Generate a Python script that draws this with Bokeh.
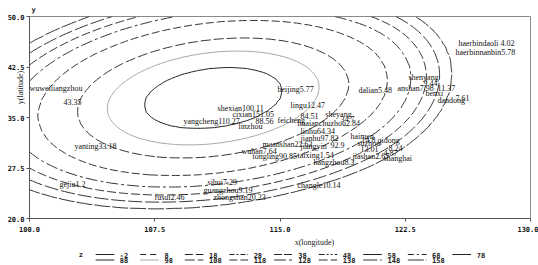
import numpy as np
from contourpy import contour_generator
from bokeh.plotting import figure
from bokeh.models import FixedTicker, PrintfTickFormatter, Range1d
from bokeh.layouts import column
from bokeh.embed import file_html
from bokeh.resources import INLINE
from bokeh.core.properties import value

# ---- contour levels (legend) ----
levels = [-2, 8, 18, 28, 38, 48, 58, 68, 78, 88, 98, 108, 118, 128, 138, 148, 158]
level_dash = ["solid", "6 4", "8 3", "5 2 2 2", "8 2", "6 2 2 2 2 2", "solid", "6 3 2 3", "solid",
              "solid", "solid", "10 3", "8 3", "12 3 3 3", "9 3", "14 3", "16 2"]
level_color = ["#222222"] * 10 + ["#a8a8a8"] + ["#333333"] * 6

# ---- surface: radius (lon units) at which each visible level is crossed ----
ring_levels = [88, 98, 108, 118, 128, 138, 148, 158]
ring_radius = [4.15, 6.35, 8.1, 10.5, 12.06, 13.12, 14.08, 14.96]
centre_lon, centre_lat, tilt, lat_scale, east_squeeze = 111.0, 37.9, 0.25, 1.07, 0.025

# ---- station labels ----
label_text = ["wuweiliangzhou", "43.35", "beijing5.77", "lingu12.47", "shexian100.11", "cixian151.05",
              "yangcheng110.27", "88.56", "linzhou", "feicheng", "84.51", "sheyang", "34.7",
              "huaianchuzhou2.84", "linhu64.34", "jianhu97.82", "haimen", "14.8 qidong",
              "maanshan22.63", "jiangyin", "92.9", "suzhou", "13.01", "8.24", "4.87", "taixing1.54",
              "jiashan2.67", "shanghai", "hangzhou8.3", "tongling90.85", "wuhan7.64", "changle10.14",
              "sihui7.29", "guangzhou9.19", "zhongshan20.23", "fusui2.46", "yanting33.18", "gejiu1.2",
              "dalian5.48", "anshan7.98", "shenyang", "9.44", "benxi", "11.37", "dandong", "7.61",
              "haerbindaoli 4.02", "haerbinnanbin5.78"]
label_lon = [100.0, 102.04, 114.85, 115.63, 111.26, 112.16,
             109.22, 113.53, 112.51, 114.85, 116.23, 117.72, 118.62,
             116.05, 116.23, 116.23, 119.22, 119.88,
             113.95, 116.23, 118.02, 119.64, 119.82, 121.5, 121.2, 116.05,
             119.34, 121.2, 117.0, 113.35, 112.69, 116.05,
             110.66, 110.42, 111.02, 107.49, 102.69, 101.8,
             119.7, 122.04, 122.69, 123.59, 123.71, 124.43, 124.43, 125.51,
             125.69, 125.51]
label_lat = [39.31, 37.23, 39.16, 36.78, 36.34, 35.45,
             34.41, 34.55, 33.66, 34.55, 35.15, 35.45, 34.85,
             34.11, 32.92, 31.88, 32.18, 31.58,
             30.99, 30.69, 30.99, 31.14, 30.39, 30.54, 29.8, 29.36,
             29.21, 28.91, 28.32, 29.21, 29.95, 24.9,
             25.35, 24.16, 23.12, 23.12, 30.69, 25.05,
             39.01, 39.31, 40.94, 40.05, 38.56, 39.31, 37.52, 37.97,
             45.99, 44.65]

x_ticks = [100.0, 107.5, 115.0, 122.5, 130.0]
y_ticks = [20.0, 27.5, 35.0, 42.5, 50.0]

# ---- build the gridded surface ----
gx = np.linspace(100, 130, 121)
gy = np.linspace(20, 50, 121)
X, Y = np.meshgrid(gx, gy)
d = X - centre_lon
u = np.where(d > 0, d + east_squeeze * np.clip(d - 9, 0, None) ** 2, d)
v = (Y - (centre_lat + tilt * d)) / lat_scale
r = np.hypot(u, v)
Z = np.interp(r, [0.0] + ring_radius + [60.0], [80.0] + ring_levels + [400.0])

tick_font = "DejaVu Sans Mono"
serif = "Liberation Serif"
NB = "\u00a0"

p = figure(width=538, height=236, output_backend="svg", toolbar_location=None,
           x_range=Range1d(100, 130), y_range=Range1d(20, 50),
           min_border_left=29, min_border_right=8, min_border_top=16, min_border_bottom=18)
p.grid.visible = False
p.outline_line_color = "#8a8a8a"
p.outline_line_width = 1
p.background_fill_color = "white"
p.border_fill_color = "white"

p.title.text = "y"
p.title.align = "left"
p.title.offset = 2
p.title.standoff = 5
p.title.text_font = tick_font
p.title.text_font_size = "7px"
p.title.text_font_style = "bold"
p.title.text_color = "#222222"

for ax in (p.xaxis[0], p.yaxis[0]):
    ax.major_label_text_font = tick_font
    ax.major_label_text_font_style = "bold"
    ax.major_label_text_font_size = "7px"
    ax.major_label_text_color = "#111111"
    ax.axis_line_color = "#555555"
    ax.major_tick_line_color = "#555555"
    ax.major_tick_out = 3
    ax.major_tick_in = 0
    ax.minor_tick_line_color = None
    ax.formatter = PrintfTickFormatter(format="%.1f")
p.xaxis[0].ticker = FixedTicker(ticks=x_ticks)
p.yaxis[0].ticker = FixedTicker(ticks=y_ticks)
p.xaxis[0].major_label_standoff = 4
p.yaxis[0].major_label_standoff = 2

p.yaxis[0].axis_label = NB * 30 + "y(latitude)"
p.yaxis[0].axis_label_standoff = -20
p.yaxis[0].axis_label_text_font = serif
p.yaxis[0].axis_label_text_font_size = "8px"
p.yaxis[0].axis_label_text_font_style = "normal"
p.yaxis[0].axis_label_text_color = "#222222"

gen = contour_generator(gx, gy, Z)
for lev, dash, col in zip(levels, level_dash, level_color):
    segs = gen.lines(lev)
    if not segs:
        continue
    p.multi_line(xs=[s[:, 0] for s in segs], ys=[s[:, 1] for s in segs],
                 line_color=col, line_dash=dash, line_width=1)

p.text(x=label_lon, y=label_lat, text=label_text, text_font=value(serif),
       text_font_size="8px", text_color="#111111",
       text_align="left", text_baseline="middle")

# ---- x-axis title + legend strip (page coordinates) ----
lg = figure(width=538, height=29, output_backend="svg", toolbar_location=None,
            x_range=Range1d(0, 538), y_range=Range1d(0, 29),
            min_border_left=0, min_border_right=0, min_border_top=0, min_border_bottom=0)
lg.axis.visible = False
lg.grid.visible = False
lg.outline_line_color = None
lg.text(x=[306], y=[23], text=["x(longitude)"], text_font=value(serif), text_font_size="8px",
        text_align="center", text_baseline="middle", text_color="#222222")
lg.text(x=[53], y=[11], text=["z"], text_font=value(tick_font), text_font_style="bold",
        text_font_size="7px", text_align="left", text_baseline="middle", text_color="#222222")
for i, (lev, dash, col) in enumerate(zip(levels, level_dash, level_color)):
    row, colm = divmod(i, 9)
    lx = 97 + colm * 47.9
    yy = 11.0 if row == 0 else 5.5
    lg.line(x=[lx - 26, lx - 6], y=[yy, yy], line_color=col, line_dash=dash, line_width=1)
    lg.text(x=[lx], y=[yy], text=[str(lev)], text_font=value(tick_font), text_font_style="bold",
            text_font_size="7px", text_align="left", text_baseline="middle", text_color="#222222")

layout = column(p, lg, spacing=0)
open("out.html", "w").write(file_html(layout, INLINE))
